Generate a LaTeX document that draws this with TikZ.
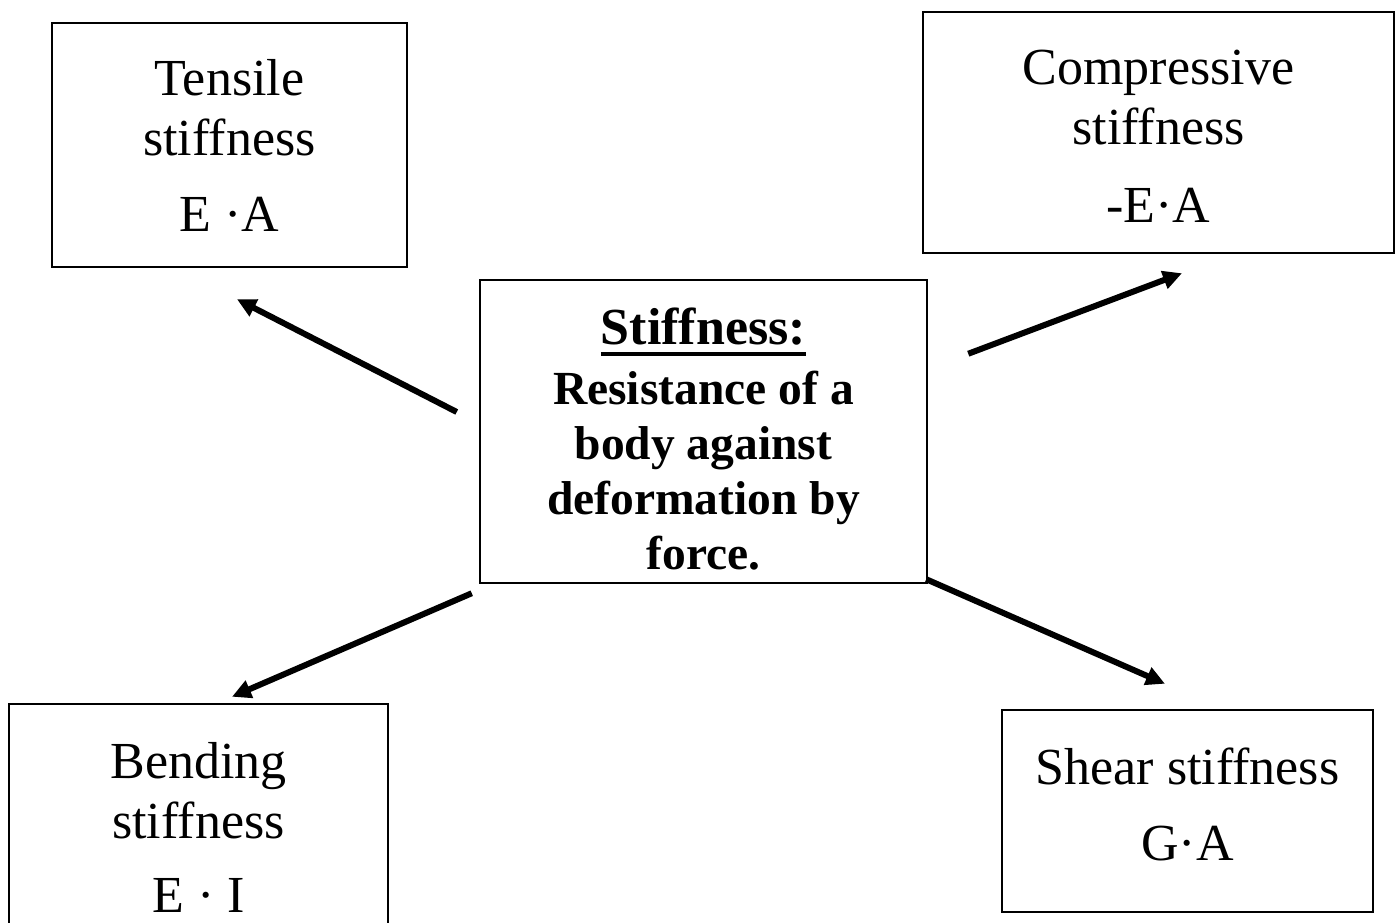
\documentclass[tikz,border=0pt]{standalone}
\usepackage{fontspec}
\setmainfont{Liberation Serif}
\usetikzlibrary{arrows.meta,calc}

% heavy underline for the heading
\newcommand{\headul}[1]{\setbox0\hbox{#1}\rlap{\rule[-11pt]{\wd0}{4pt}}\box0}
% invisible struts to nudge text inside a fixed box
\newcommand{\topstrut}[1]{\rule{0pt}{#1}}
\newcommand{\botstrut}[1]{\rule[-#1]{0pt}{#1}}

\begin{document}
\begin{tikzpicture}[x=1pt, y=-1pt, line join=miter,
    box/.style={draw, line width=2.5pt, inner sep=0pt, align=center,
                font=\fontsize{52}{60}\selectfont},
    arr/.style={line width=6pt, -{Triangle[length=19pt,width=18pt]}}]

  %% ==== boxes ====
  \node[box, minimum width=355, minimum height=244] (tens)  at (229.5,145.0) {Tensile\\stiffness\\[16pt]E ·A};
  \node[box, minimum width=471, minimum height=241] (comp)  at (1158.5,132.5) {\topstrut{42pt}Compressive\\stiffness\\[18pt]-E·A};
  \node[box, minimum width=379, minimum height=246] (bend)  at (198.5,827.0) {Bending\\stiffness\\[14pt]E · I};
  \node[box, minimum width=371, minimum height=202] (shear) at (1187.5,811.0) {Shear stiffness\\[16pt]G·A\botstrut{13pt}};

  %% ==== centre box ====
  \node[box, minimum width=447, minimum height=303,
        font=\fontsize{47.5}{55}\selectfont\bfseries] (core) at (703.5,431.5)
        {{\fontsize{52}{60}\selectfont\topstrut{52pt}\headul{Stiffness:}}\\[5pt]Resistance of a\\body against\\deformation by\\force.};

  %% ==== arrows (ends offset from the box anchors) ====
  \draw[arr] ($(core.west)+(-22,-19.5)$) -- ($(tens.south)+(7.5,31)$);
  \draw[arr] ($(core.north east)+(40,75)$) -- ($(comp.south)+(23.5,19)$);
  \draw[arr] ($(core.south west)+(-7,9)$) -- ($(bend.north)+(33.5,-6)$);
  \draw[arr] ($(core.south east)+(-2,-5)$) -- ($(shear.north)+(-22.5,-25)$);

  % fix the canvas to the reference size
  \pgfresetboundingbox
  \path[use as bounding box] (0,0) rectangle (1398,923);
\end{tikzpicture}
\end{document}
